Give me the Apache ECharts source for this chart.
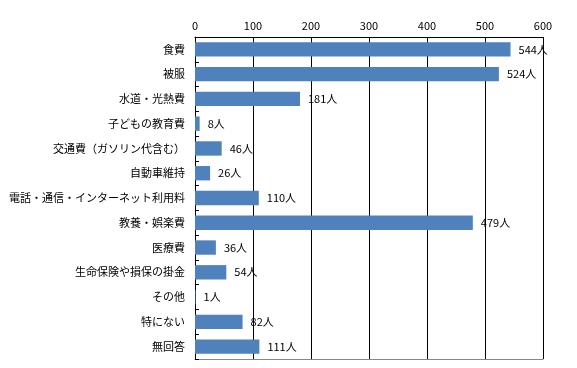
<!DOCTYPE html>
<html><head><meta charset="utf-8">
<script src="https://cdn.jsdelivr.net/npm/echarts@6/dist/echarts.min.js"></script>
<style>html,body{margin:0;padding:0;background:#fff}#c{width:577px;height:368px}</style>
</head><body><div id="c"></div>
<script>
const categories = ['食費','被服','水道・光熱費','子どもの教育費','交通費（ガソリン代含む）','自動車維持','電話・通信・インターネット利用料','教養・娯楽費','医療費','生命保険や損保の掛金','その他','特にない','無回答'];
const values = [544,524,181,8,46,26,110,479,36,54,1,82,111];
const xTicks = {min:0,max:600,interval:100};
const unit = '人';
const font = '"Noto Sans CJK JP", sans-serif';
const chart = echarts.init(document.getElementById('c'));
chart.setOption({
  animation:false,
  backgroundColor:'#fff',
  grid:{left:195,right:34,top:37,bottom:9,containLabel:false,outerBoundsMode:'none'},
  xAxis:[{
    type:'value',position:'top',min:xTicks.min,max:xTicks.max,interval:xTicks.interval,
    axisLine:{show:true,lineStyle:{color:'#000',width:1}},
    axisTick:{show:false},
    axisLabel:{color:'#000',fontSize:11,fontFamily:font,margin:6},
    splitLine:{show:true,lineStyle:{color:'#000',width:1}}
  },{
    type:'value',position:'bottom',min:xTicks.min,max:xTicks.max,interval:xTicks.interval,
    axisLine:{show:true,lineStyle:{color:'#888',width:1}},
    axisTick:{show:false},axisLabel:{show:false},splitLine:{show:false}
  }],
  yAxis:{
    type:'category',data:categories,inverse:true,
    axisLine:{show:true,lineStyle:{color:'#000',width:1}},
    axisTick:{show:true,inside:true,length:4,lineStyle:{color:'#000'}},
    axisLabel:{color:'#000',fontSize:11,fontFamily:font,margin:10}
  },
  series:[{
    type:'bar',data:values,xAxisIndex:0,barWidth:'58%',
    itemStyle:{color:'#4F81BD'},
    label:{show:true,position:'right',distance:8,color:'#000',fontSize:11,fontFamily:font,
      formatter:p=>p.value+unit}
  }]
});
</script></body></html>
